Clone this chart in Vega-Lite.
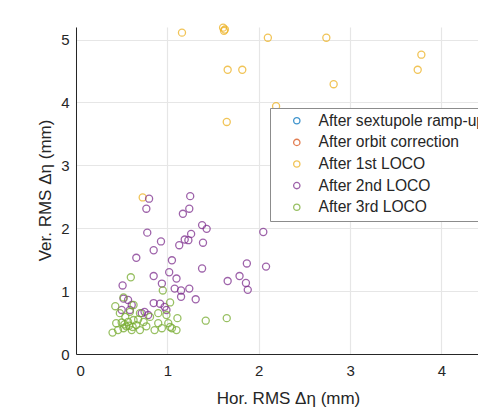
{
  "$schema": "https://vega.github.io/schema/vega-lite/v6.json",
  "width": 402,
  "height": 327,
  "autosize": {"type": "none"},
  "padding": {"left": 76, "top": 27, "right": 0, "bottom": 58},
  "background": "white",
  "config": {
    "font": "Liberation Sans",
    "view": {"stroke": null},
    "axis": {
      "domainColor": "#262626",
      "domainWidth": 1,
      "gridColor": "#e6e6e6",
      "gridWidth": 1.2,
      "ticks": false,
      "labelFontSize": 15,
      "labelColor": "#262626",
      "titleFontSize": 17,
      "titleFontWeight": "normal",
      "titleColor": "#262626"
    }
  },
  "data": {
    "values": [
      {"x": 1.16, "y": 5.11, "s": "After 1st LOCO"},
      {"x": 1.61, "y": 5.19, "s": "After 1st LOCO"},
      {"x": 1.63, "y": 5.16, "s": "After 1st LOCO"},
      {"x": 1.62, "y": 5.14, "s": "After 1st LOCO"},
      {"x": 2.10, "y": 5.03, "s": "After 1st LOCO"},
      {"x": 2.74, "y": 5.03, "s": "After 1st LOCO"},
      {"x": 3.78, "y": 4.76, "s": "After 1st LOCO"},
      {"x": 3.74, "y": 4.52, "s": "After 1st LOCO"},
      {"x": 1.66, "y": 4.52, "s": "After 1st LOCO"},
      {"x": 1.82, "y": 4.52, "s": "After 1st LOCO"},
      {"x": 2.82, "y": 4.29, "s": "After 1st LOCO"},
      {"x": 2.19, "y": 3.94, "s": "After 1st LOCO"},
      {"x": 1.65, "y": 3.69, "s": "After 1st LOCO"},
      {"x": 0.73, "y": 2.49, "s": "After 1st LOCO"},
      {"x": 0.80, "y": 2.47, "s": "After 2nd LOCO"},
      {"x": 1.25, "y": 2.51, "s": "After 2nd LOCO"},
      {"x": 0.77, "y": 2.31, "s": "After 2nd LOCO"},
      {"x": 1.17, "y": 2.23, "s": "After 2nd LOCO"},
      {"x": 1.24, "y": 2.31, "s": "After 2nd LOCO"},
      {"x": 0.78, "y": 1.93, "s": "After 2nd LOCO"},
      {"x": 0.93, "y": 1.79, "s": "After 2nd LOCO"},
      {"x": 0.85, "y": 1.65, "s": "After 2nd LOCO"},
      {"x": 0.66, "y": 1.53, "s": "After 2nd LOCO"},
      {"x": 1.05, "y": 1.49, "s": "After 2nd LOCO"},
      {"x": 1.13, "y": 1.73, "s": "After 2nd LOCO"},
      {"x": 1.19, "y": 1.82, "s": "After 2nd LOCO"},
      {"x": 1.23, "y": 1.81, "s": "After 2nd LOCO"},
      {"x": 1.26, "y": 1.91, "s": "After 2nd LOCO"},
      {"x": 1.38, "y": 2.05, "s": "After 2nd LOCO"},
      {"x": 1.43, "y": 1.99, "s": "After 2nd LOCO"},
      {"x": 1.39, "y": 1.77, "s": "After 2nd LOCO"},
      {"x": 2.05, "y": 1.94, "s": "After 2nd LOCO"},
      {"x": 1.87, "y": 1.44, "s": "After 2nd LOCO"},
      {"x": 2.08, "y": 1.39, "s": "After 2nd LOCO"},
      {"x": 1.38, "y": 1.36, "s": "After 2nd LOCO"},
      {"x": 1.02, "y": 1.30, "s": "After 2nd LOCO"},
      {"x": 1.10, "y": 1.20, "s": "After 2nd LOCO"},
      {"x": 0.85, "y": 1.24, "s": "After 2nd LOCO"},
      {"x": 0.94, "y": 1.12, "s": "After 2nd LOCO"},
      {"x": 0.51, "y": 1.09, "s": "After 2nd LOCO"},
      {"x": 1.08, "y": 1.04, "s": "After 2nd LOCO"},
      {"x": 1.15, "y": 1.01, "s": "After 2nd LOCO"},
      {"x": 1.15, "y": 0.91, "s": "After 2nd LOCO"},
      {"x": 1.24, "y": 1.04, "s": "After 2nd LOCO"},
      {"x": 1.66, "y": 1.16, "s": "After 2nd LOCO"},
      {"x": 1.79, "y": 1.24, "s": "After 2nd LOCO"},
      {"x": 1.86, "y": 1.13, "s": "After 2nd LOCO"},
      {"x": 1.88, "y": 1.02, "s": "After 2nd LOCO"},
      {"x": 1.31, "y": 0.87, "s": "After 2nd LOCO"},
      {"x": 0.52, "y": 0.88, "s": "After 2nd LOCO"},
      {"x": 0.57, "y": 0.86, "s": "After 2nd LOCO"},
      {"x": 0.61, "y": 0.78, "s": "After 2nd LOCO"},
      {"x": 0.50, "y": 0.70, "s": "After 2nd LOCO"},
      {"x": 0.85, "y": 0.81, "s": "After 2nd LOCO"},
      {"x": 0.92, "y": 0.80, "s": "After 2nd LOCO"},
      {"x": 0.97, "y": 0.75, "s": "After 2nd LOCO"},
      {"x": 0.99, "y": 0.70, "s": "After 2nd LOCO"},
      {"x": 0.75, "y": 0.67, "s": "After 2nd LOCO"},
      {"x": 0.79, "y": 0.62, "s": "After 2nd LOCO"},
      {"x": 0.72, "y": 0.65, "s": "After 2nd LOCO"},
      {"x": 0.59, "y": 0.70, "s": "After 2nd LOCO"},
      {"x": 0.60, "y": 1.22, "s": "After 3rd LOCO"},
      {"x": 0.95, "y": 1.01, "s": "After 3rd LOCO"},
      {"x": 0.52, "y": 0.90, "s": "After 3rd LOCO"},
      {"x": 0.43, "y": 0.76, "s": "After 3rd LOCO"},
      {"x": 1.03, "y": 0.82, "s": "After 3rd LOCO"},
      {"x": 1.42, "y": 0.53, "s": "After 3rd LOCO"},
      {"x": 1.65, "y": 0.57, "s": "After 3rd LOCO"},
      {"x": 0.40, "y": 0.34, "s": "After 3rd LOCO"},
      {"x": 1.11, "y": 0.57, "s": "After 3rd LOCO"},
      {"x": 1.03, "y": 0.43, "s": "After 3rd LOCO"},
      {"x": 0.48, "y": 0.65, "s": "After 3rd LOCO"},
      {"x": 0.54, "y": 0.59, "s": "After 3rd LOCO"},
      {"x": 0.59, "y": 0.67, "s": "After 3rd LOCO"},
      {"x": 0.63, "y": 0.54, "s": "After 3rd LOCO"},
      {"x": 0.50, "y": 0.50, "s": "After 3rd LOCO"},
      {"x": 0.55, "y": 0.44, "s": "After 3rd LOCO"},
      {"x": 0.61, "y": 0.38, "s": "After 3rd LOCO"},
      {"x": 0.66, "y": 0.46, "s": "After 3rd LOCO"},
      {"x": 0.70, "y": 0.38, "s": "After 3rd LOCO"},
      {"x": 0.74, "y": 0.51, "s": "After 3rd LOCO"},
      {"x": 0.77, "y": 0.44, "s": "After 3rd LOCO"},
      {"x": 0.81, "y": 0.59, "s": "After 3rd LOCO"},
      {"x": 0.86, "y": 0.38, "s": "After 3rd LOCO"},
      {"x": 0.90, "y": 0.49, "s": "After 3rd LOCO"},
      {"x": 0.94, "y": 0.41, "s": "After 3rd LOCO"},
      {"x": 0.99, "y": 0.62, "s": "After 3rd LOCO"},
      {"x": 1.01, "y": 0.49, "s": "After 3rd LOCO"},
      {"x": 1.05, "y": 0.41, "s": "After 3rd LOCO"},
      {"x": 0.63, "y": 0.78, "s": "After 3rd LOCO"},
      {"x": 0.70, "y": 0.65, "s": "After 3rd LOCO"},
      {"x": 0.44, "y": 0.49, "s": "After 3rd LOCO"},
      {"x": 0.46, "y": 0.38, "s": "After 3rd LOCO"},
      {"x": 0.52, "y": 0.41, "s": "After 3rd LOCO"},
      {"x": 0.57, "y": 0.51, "s": "After 3rd LOCO"},
      {"x": 0.90, "y": 0.65, "s": "After 3rd LOCO"},
      {"x": 1.10, "y": 0.38, "s": "After 3rd LOCO"},
      {"x": 0.58, "y": 0.45, "s": "After 3rd LOCO"},
      {"x": 0.68, "y": 0.55, "s": "After 3rd LOCO"},
      {"x": 0.53, "y": 0.47, "s": "After 3rd LOCO"},
      {"x": 0.62, "y": 0.43, "s": "After 3rd LOCO"}
    ]
  },
  "mark": {"type": "point", "shape": "circle", "filled": false, "size": 50, "strokeWidth": 1.3, "opacity": 0.75},
  "encoding": {
    "x": {
      "field": "x", "type": "quantitative",
      "scale": {"domain": [0, 4.4], "nice": false},
      "axis": {"values": [0, 1, 2, 3, 4], "title": "Hor. RMS Δη (mm)", "labelPadding": 9, "titleX": 212, "titleY": 44, "titleBaseline": "middle", "titleAnchor": "middle", "titleAlign": "center"}
    },
    "y": {
      "field": "y", "type": "quantitative",
      "scale": {"domain": [0, 5.2], "nice": false},
      "axis": {"values": [0, 1, 2, 3, 4, 5], "title": "Ver. RMS Δη (mm)", "labelPadding": 7, "titleX": -31, "titleY": 163, "titleBaseline": "middle", "titleAlign": "center", "titleAngle": -90}
    },
    "color": {
      "field": "s", "type": "nominal",
      "scale": {
        "domain": ["After sextupole ramp-up", "After orbit correction", "After 1st LOCO", "After 2nd LOCO", "After 3rd LOCO"],
        "range": ["#0072BD", "#D95319", "#EDB120", "#7E2F8E", "#77AC30"]
      },
      "legend": {
        "orient": "none", "legendX": 194, "legendY": 81,
        "title": null,
        "fillColor": "white", "strokeColor": "#8c8c8c",
        "padding": 5, "symbolOffset": 14, "labelOffset": 14,
        "labelFontSize": 15.6, "labelColor": "#262626",
        "symbolType": "circle", "symbolSize": 40, "symbolStrokeWidth": 1.3,
        "symbolOpacity": 0.75,
        "rowPadding": 4.6, "labelLimit": 400
      }
    }
  }
}
